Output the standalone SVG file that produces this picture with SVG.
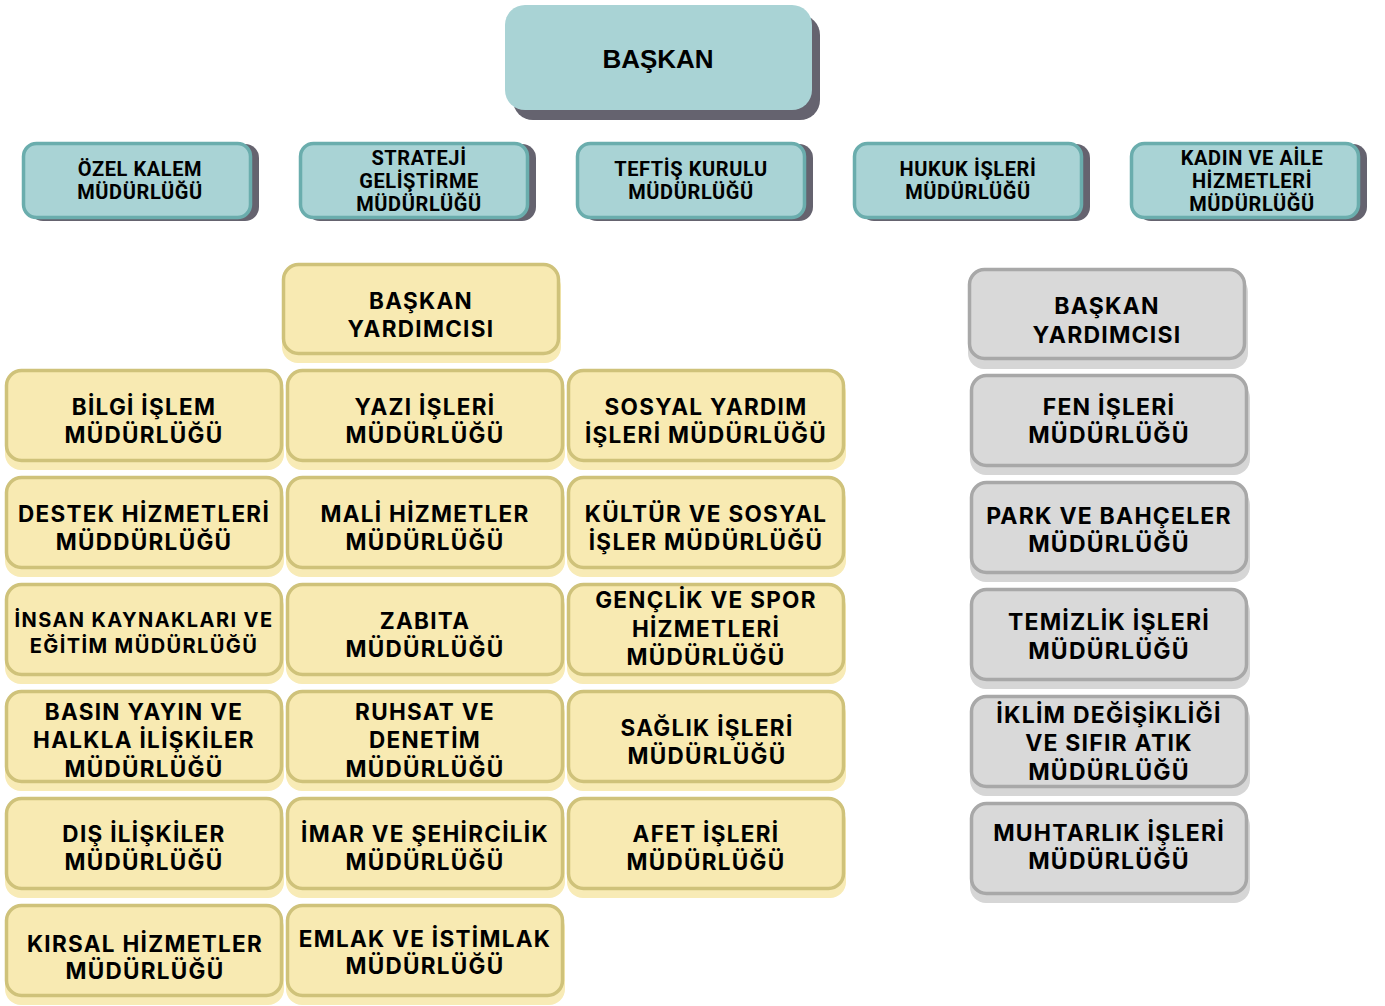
<svg xmlns="http://www.w3.org/2000/svg" width="1385" height="1006" viewBox="0 0 1385 1006">
<style>
.bg{fill:#ffffff}
.tsh{fill:#65636f}
.tb{fill:#a9d3d5;stroke:#6aadad;stroke-width:3.5}
.top{fill:#a9d3d5}
.ysh{fill:#f8ebb6}
.yb{fill:#f8eab2;stroke:#cfc27a;stroke-width:3.5}
.gsh{fill:#d6d6d6}
.gb{fill:#d9d9d9;stroke:#a8a8a8;stroke-width:3.5}
text{font-family:Inter,"Noto Sans","DejaVu Sans",sans-serif;font-weight:700;fill:#000;text-anchor:middle}
.t1{font-family:"Liberation Sans",Arial,sans-serif;font-size:26px}
.tt{font-family:Roboto,"Liberation Sans",sans-serif;font-size:20px;letter-spacing:0.6px}
.yt{font-size:22.5px;letter-spacing:1.3px}
.ys{font-size:20px;letter-spacing:1.4px}
.gt{font-size:23px;letter-spacing:1.2px}
</style>
<rect class="bg" x="0" y="0" width="1385" height="1006"/>
<g id="connectors"></g>

<g id="baskan">
<rect class="tsh" x="513" y="15" width="307" height="105" rx="20"/>
<rect class="top" x="505" y="5" width="307" height="105" rx="20"/>
<text class="t1" x="658" y="68">BAŞKAN</text>
</g>

<g id="ozel-kalem">
<rect class="tsh" x="29" y="144" width="230" height="77" rx="14"/>
<rect class="tb" x="23.5" y="143.5" width="227" height="74" rx="13"/>
<text class="tt" x="140" y="176">ÖZEL KALEM</text>
<text class="tt" x="140" y="199">MÜDÜRLÜĞÜ</text>
</g>
<g id="strateji">
<rect class="tsh" x="306" y="144" width="230" height="77" rx="14"/>
<rect class="tb" x="300.5" y="143.5" width="227" height="74" rx="13"/>
<text class="tt" x="419" y="165">STRATEJİ</text>
<text class="tt" x="419" y="188">GELİŞTİRME</text>
<text class="tt" x="419" y="211">MÜDÜRLÜĞÜ</text>
</g>
<g id="teftis">
<rect class="tsh" x="583" y="144" width="230" height="77" rx="14"/>
<rect class="tb" x="577.5" y="143.5" width="227" height="74" rx="13"/>
<text class="tt" x="691" y="176">TEFTİŞ KURULU</text>
<text class="tt" x="691" y="199">MÜDÜRLÜĞÜ</text>
</g>
<g id="hukuk">
<rect class="tsh" x="860" y="144" width="230" height="77" rx="14"/>
<rect class="tb" x="854.5" y="143.5" width="227" height="74" rx="13"/>
<text class="tt" x="968" y="176">HUKUK İŞLERİ</text>
<text class="tt" x="968" y="199">MÜDÜRLÜĞÜ</text>
</g>
<g id="kadin-aile">
<rect class="tsh" x="1137" y="144" width="230" height="77" rx="14"/>
<rect class="tb" x="1131.5" y="143.5" width="227" height="74" rx="13"/>
<text class="tt" x="1252" y="165">KADIN VE AİLE</text>
<text class="tt" x="1252" y="188">HİZMETLERİ</text>
<text class="tt" x="1252" y="211">MÜDÜRLÜĞÜ</text>
</g>

<!-- yellow column -->
<g id="baskan-yrd-1">
<rect class="ysh" x="282" y="271" width="279" height="92" rx="16"/>
<rect class="yb" x="283.5" y="264.5" width="275" height="89" rx="15"/>
<text class="yt" x="421" y="309">BAŞKAN</text>
<text class="yt" x="421" y="337">YARDIMCISI</text>
</g>

<g id="bilgi-islem">
<rect class="ysh" x="5" y="377" width="279" height="93" rx="16"/>
<rect class="yb" x="6.5" y="370.5" width="275" height="90" rx="15"/>
<text class="yt" x="144" y="415">BİLGİ İŞLEM</text>
<text class="yt" x="144" y="443">MÜDÜRLÜĞÜ</text>
</g>
<g id="yazi-isleri">
<rect class="ysh" x="286" y="377" width="279" height="93" rx="16"/>
<rect class="yb" x="287.5" y="370.5" width="275" height="90" rx="15"/>
<text class="yt" x="425" y="415">YAZI İŞLERİ</text>
<text class="yt" x="425" y="443">MÜDÜRLÜĞÜ</text>
</g>
<g id="sosyal-yardim">
<rect class="ysh" x="567" y="377" width="279" height="93" rx="16"/>
<rect class="yb" x="568.5" y="370.5" width="275" height="90" rx="15"/>
<text class="yt" x="706" y="415">SOSYAL YARDIM</text>
<text class="yt" x="706" y="443">İŞLERİ MÜDÜRLÜĞÜ</text>
</g>

<g id="destek">
<rect class="ysh" x="5" y="484" width="279" height="93" rx="16"/>
<rect class="yb" x="6.5" y="477.5" width="275" height="90" rx="15"/>
<text class="yt" x="144" y="522">DESTEK HİZMETLERİ</text>
<text class="yt" x="144" y="550">MÜDDÜRLÜĞÜ</text>
</g>
<g id="mali">
<rect class="ysh" x="286" y="484" width="279" height="93" rx="16"/>
<rect class="yb" x="287.5" y="477.5" width="275" height="90" rx="15"/>
<text class="yt" x="425" y="522">MALİ HİZMETLER</text>
<text class="yt" x="425" y="550">MÜDÜRLÜĞÜ</text>
</g>
<g id="kultur">
<rect class="ysh" x="567" y="484" width="279" height="93" rx="16"/>
<rect class="yb" x="568.5" y="477.5" width="275" height="90" rx="15"/>
<text class="yt" x="706" y="522">KÜLTÜR VE SOSYAL</text>
<text class="yt" x="706" y="550">İŞLER MÜDÜRLÜĞÜ</text>
</g>

<g id="insan-kaynaklari">
<rect class="ysh" x="5" y="591" width="279" height="93" rx="16"/>
<rect class="yb" x="6.5" y="584.5" width="275" height="90" rx="15"/>
<text class="ys" x="144" y="627">İNSAN KAYNAKLARI VE</text>
<text class="ys" x="144" y="653">EĞİTİM MÜDÜRLÜĞÜ</text>
</g>
<g id="zabita">
<rect class="ysh" x="286" y="591" width="279" height="93" rx="16"/>
<rect class="yb" x="287.5" y="584.5" width="275" height="90" rx="15"/>
<text class="yt" x="425" y="629">ZABITA</text>
<text class="yt" x="425" y="657">MÜDÜRLÜĞÜ</text>
</g>
<g id="genclik">
<rect class="ysh" x="567" y="591" width="279" height="93" rx="16"/>
<rect class="yb" x="568.5" y="584.5" width="275" height="90" rx="15"/>
<text class="yt" x="706" y="608">GENÇLİK VE SPOR</text>
<text class="yt" x="706" y="637">HİZMETLERİ</text>
<text class="yt" x="706" y="665">MÜDÜRLÜĞÜ</text>
</g>

<g id="basin-yayin">
<rect class="ysh" x="5" y="698" width="279" height="93" rx="16"/>
<rect class="yb" x="6.5" y="691.5" width="275" height="90" rx="15"/>
<text class="yt" x="144" y="720">BASIN YAYIN VE</text>
<text class="yt" x="144" y="748">HALKLA İLİŞKİLER</text>
<text class="yt" x="144" y="777">MÜDÜRLÜĞÜ</text>
</g>
<g id="ruhsat">
<rect class="ysh" x="286" y="698" width="279" height="93" rx="16"/>
<rect class="yb" x="287.5" y="691.5" width="275" height="90" rx="15"/>
<text class="yt" x="425" y="720">RUHSAT VE</text>
<text class="yt" x="425" y="748">DENETİM</text>
<text class="yt" x="425" y="777">MÜDÜRLÜĞÜ</text>
</g>
<g id="saglik">
<rect class="ysh" x="567" y="698" width="279" height="93" rx="16"/>
<rect class="yb" x="568.5" y="691.5" width="275" height="90" rx="15"/>
<text class="yt" x="707" y="736">SAĞLIK İŞLERİ</text>
<text class="yt" x="707" y="764">MÜDÜRLÜĞÜ</text>
</g>

<g id="dis-iliskiler">
<rect class="ysh" x="5" y="805" width="279" height="93" rx="16"/>
<rect class="yb" x="6.5" y="798.5" width="275" height="90" rx="15"/>
<text class="yt" x="144" y="842">DIŞ İLİŞKİLER</text>
<text class="yt" x="144" y="870">MÜDÜRLÜĞÜ</text>
</g>
<g id="imar">
<rect class="ysh" x="286" y="805" width="279" height="93" rx="16"/>
<rect class="yb" x="287.5" y="798.5" width="275" height="90" rx="15"/>
<text class="yt" x="425" y="842">İMAR VE ŞEHİRCİLİK</text>
<text class="yt" x="425" y="870">MÜDÜRLÜĞÜ</text>
</g>
<g id="afet">
<rect class="ysh" x="567" y="805" width="279" height="93" rx="16"/>
<rect class="yb" x="568.5" y="798.5" width="275" height="90" rx="15"/>
<text class="yt" x="706" y="842">AFET İŞLERİ</text>
<text class="yt" x="706" y="870">MÜDÜRLÜĞÜ</text>
</g>

<g id="kirsal">
<rect class="ysh" x="5" y="912" width="279" height="93" rx="16"/>
<rect class="yb" x="6.5" y="905.5" width="275" height="90" rx="15"/>
<text class="yt" x="145" y="952">KIRSAL HİZMETLER</text>
<text class="yt" x="145" y="979">MÜDÜRLÜĞÜ</text>
</g>
<g id="emlak">
<rect class="ysh" x="286" y="912" width="279" height="93" rx="16"/>
<rect class="yb" x="287.5" y="905.5" width="275" height="90" rx="15"/>
<text class="yt" x="425" y="947">EMLAK VE İSTİMLAK</text>
<text class="yt" x="425" y="974">MÜDÜRLÜĞÜ</text>
</g>

<!-- gray column -->
<g id="baskan-yrd-2">
<rect class="gsh" x="968" y="276" width="280" height="93" rx="16"/>
<rect class="gb" x="969.5" y="269.5" width="275" height="89" rx="15"/>
<text class="gt" x="1107" y="314">BAŞKAN</text>
<text class="gt" x="1107" y="343">YARDIMCISI</text>
</g>
<g id="fen-isleri">
<rect class="gsh" x="970" y="382" width="280" height="93" rx="16"/>
<rect class="gb" x="971.5" y="375.5" width="275" height="90" rx="15"/>
<text class="gt" x="1109" y="415">FEN İŞLERİ</text>
<text class="gt" x="1109" y="443">MÜDÜRLÜĞÜ</text>
</g>
<g id="park-bahce">
<rect class="gsh" x="970" y="489" width="280" height="93" rx="16"/>
<rect class="gb" x="971.5" y="482.5" width="275" height="90" rx="15"/>
<text class="gt" x="1109" y="524">PARK VE BAHÇELER</text>
<text class="gt" x="1109" y="552">MÜDÜRLÜĞÜ</text>
</g>
<g id="temizlik">
<rect class="gsh" x="970" y="596" width="280" height="93" rx="16"/>
<rect class="gb" x="971.5" y="589.5" width="275" height="90" rx="15"/>
<text class="gt" x="1109" y="630">TEMİZLİK İŞLERİ</text>
<text class="gt" x="1109" y="659">MÜDÜRLÜĞÜ</text>
</g>
<g id="iklim">
<rect class="gsh" x="970" y="703" width="280" height="93" rx="16"/>
<rect class="gb" x="971.5" y="696.5" width="275" height="90" rx="15"/>
<text class="gt" x="1109" y="723">İKLİM DEĞİŞİKLİĞİ</text>
<text class="gt" x="1109" y="751">VE SIFIR ATIK</text>
<text class="gt" x="1109" y="780">MÜDÜRLÜĞÜ</text>
</g>
<g id="muhtarlik">
<rect class="gsh" x="970" y="810" width="280" height="93" rx="16"/>
<rect class="gb" x="971.5" y="803.5" width="275" height="90" rx="15"/>
<text class="gt" x="1109" y="841">MUHTARLIK İŞLERİ</text>
<text class="gt" x="1109" y="869">MÜDÜRLÜĞÜ</text>
</g>
</svg>
